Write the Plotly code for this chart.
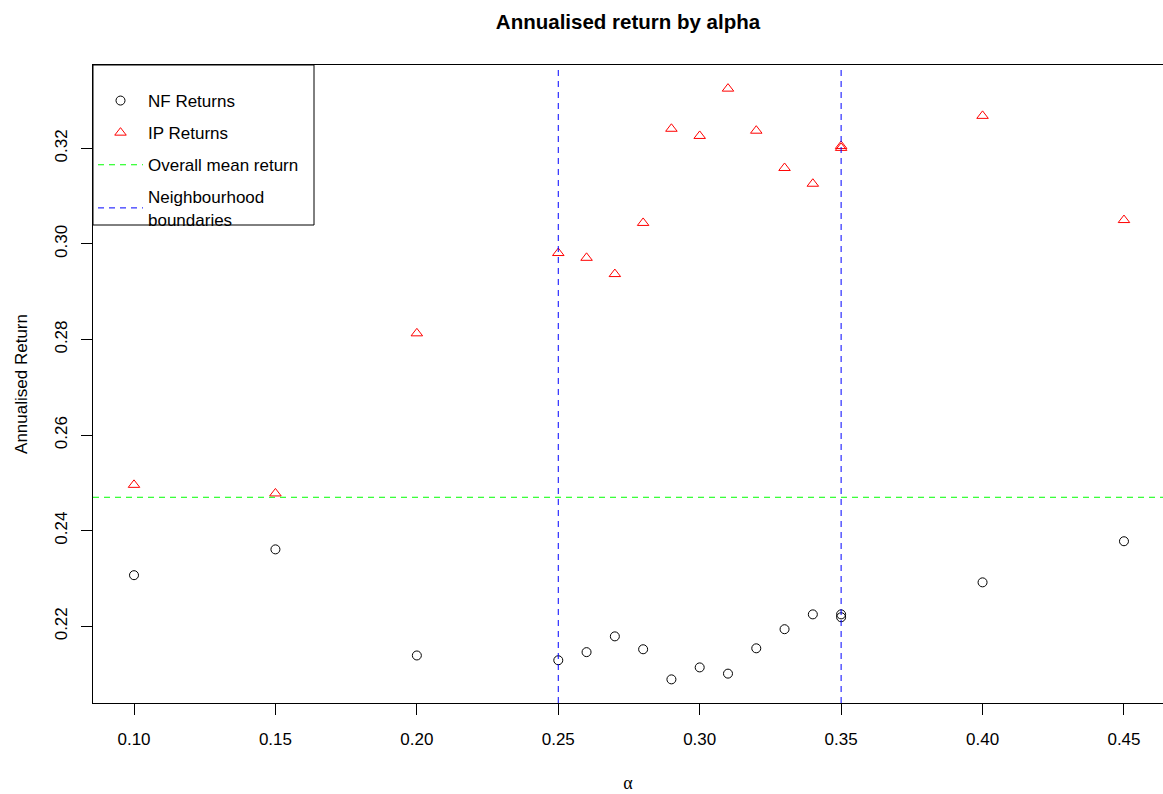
import plotly.graph_objects as go

# ---- data ----
alpha = [0.10, 0.15, 0.20, 0.25, 0.26, 0.27, 0.28, 0.29, 0.30, 0.31,
         0.32, 0.33, 0.34, 0.35, 0.35, 0.40, 0.45]
nf_returns = [0.2307, 0.2361, 0.2139, 0.2129, 0.2146, 0.2179, 0.2152, 0.2089,
              0.2114, 0.2101, 0.2154, 0.2194, 0.2225, 0.2225, 0.2219, 0.2292, 0.2378]
ip_returns = [0.2496, 0.2478, 0.2813, 0.2981, 0.2971, 0.2937, 0.3044, 0.3241,
              0.3226, 0.3325, 0.3237, 0.3159, 0.3126, 0.3205, 0.3201, 0.3268, 0.3050]
overall_mean = 0.2470
boundaries = [0.25, 0.35]
x_ticks = [0.10, 0.15, 0.20, 0.25, 0.30, 0.35, 0.40, 0.45]
y_ticks = [0.22, 0.24, 0.26, 0.28, 0.30, 0.32]

FONT = "Liberation Sans, Arial, Helvetica, sans-serif"
GREEN = "#00FF00"
BLUE = "#0000FF"
DASH = "6px,5px"

# R-style 4% axis extension
def rng(vals):
    lo, hi = min(vals), max(vals)
    d = (hi - lo) * 0.04
    return [lo - d, hi + d]

yr = rng(nf_returns + ip_returns)

fig = go.Figure()
fig.add_trace(go.Scatter(
    x=alpha, y=nf_returns, mode="markers", name="NF Returns", legendgroup="a",
    marker=dict(symbol="circle-open", size=9, color="black",
                line=dict(width=1, color="black"))))
fig.add_trace(go.Scatter(
    x=alpha, y=ip_returns, mode="markers", name="IP Returns", legendgroup="b",
    marker=dict(symbol="triangle-up-open", size=10, color="red",
                line=dict(width=1, color="red"))))
# legend-only entries for the reference lines
fig.add_trace(go.Scatter(
    x=[None], y=[None], mode="lines", name="Overall mean return", legendgroup="c",
    line=dict(color=GREEN, width=1, dash=DASH)))
fig.add_trace(go.Scatter(
    x=[None], y=[None], mode="lines", name="Neighbourhood<br>boundaries", legendgroup="d",
    line=dict(color=BLUE, width=1, dash=DASH)))

fig.add_hline(y=overall_mean, line=dict(color=GREEN, width=1, dash=DASH))
for b in boundaries:
    fig.add_vline(x=b, line=dict(color=BLUE, width=1, dash=DASH))

W, H = 1163, 794
ML, MR, MT, MB = 93, 0, 65, 91
pw, ph = W - ML - MR, H - MT - MB

# legend frame (R-style box)
fig.add_shape(type="rect", xref="paper", yref="paper",
              x0=0, x1=(314 - ML) / pw, y0=1 - (225 - MT) / ph, y1=1,
              line=dict(color="black", width=1), fillcolor="rgba(0,0,0,0)",
              layer="above")

fig.update_layout(
    width=W, height=H,
    margin=dict(l=ML, r=MR, t=MT, b=MB, pad=0),
    paper_bgcolor="white", plot_bgcolor="white",
    font=dict(family=FONT, size=17, color="black"),
    title=dict(text="<b>Annualised return by alpha</b>", x=0.5, xref="paper",
               xanchor="center", y=1 - 22 / H, yref="container", yanchor="middle",
               font=dict(family=FONT, size=20.5, color="black")),
    showlegend=True,
    legend=dict(x=0, y=1 - 18 / ph, xanchor="left", yanchor="top",
                bgcolor="rgba(0,0,0,0)", borderwidth=0,
                font=dict(family=FONT, size=17, color="black"),
                tracegroupgap=7, itemwidth=45),
    xaxis=dict(range=[0.0855, 0.4638], tickvals=x_ticks,
               ticktext=[f"{v:.2f}" for v in x_ticks],
               showgrid=False, zeroline=False, showline=True, mirror=True,
               linecolor="black", linewidth=1, ticks="outside", ticklen=11,
               tickcolor="black", tickwidth=1, ticklabelstandoff=10,
               tickfont=dict(family=FONT, size=17),
               title=dict(text="α", standoff=27,
                          font=dict(family="Liberation Serif, DejaVu Serif, serif", size=18))),
    yaxis=dict(range=yr, tickvals=y_ticks,
               ticktext=[f"{v:.2f}" for v in y_ticks],
               showgrid=False, zeroline=False, showline=True, mirror=True,
               linecolor="black", linewidth=1, ticks="outside", ticklen=11,
               tickcolor="black", tickwidth=1, tickangle=-90, ticklabelstandoff=7,
               tickfont=dict(family=FONT, size=17),
               title=dict(text="Annualised Return", standoff=20,
                          font=dict(family=FONT, size=17))),
)

fig.write_html("out.html")
